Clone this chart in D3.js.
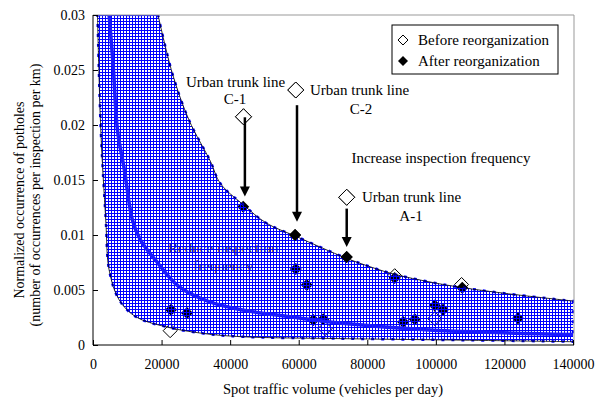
<html lang="en">
<head>
<meta charset="UTF-8">
<title>Potholes vs traffic</title>
<script src="https://cdn.jsdelivr.net/npm/d3@7"></script>
<style>
  body { margin: 0; background: #fff; }
  svg text { font-family: "Times New Roman", Times, "Liberation Serif", "DejaVu Serif", serif !important; }
</style>
</head>
<body>
<script>
    // tick values and labels
    let xTicks = [0, 20000, 40000, 60000, 80000, 100000, 120000, 140000]
    let yTicks = [0, 0.005, 0.01, 0.015, 0.02, 0.025, 0.03]
    let yTickLabels = ["0", "0.005", "0.01", "0.015", "0.02", "0.025", "0.03"]

    // boundary curves [traffic, occurrence]
    let upperBound = [[18977, 0.03], [23139, 0.0247], [28000, 0.02045], [34290, 0.01667], [37110, 0.0147],
        [43900, 0.01273], [50700, 0.01106], [59430, 0.00985], [74000, 0.00788], [83690, 0.00682],
        [88300, 0.0064], [103100, 0.00545], [120000, 0.0047], [140000, 0.0040]]
    let lowerBound = [[1310, 0.03], [2270, 0.01955], [3726, 0.01136], [4715, 0.0068], [7626, 0.0041],
        [12457, 0.00257], [21190, 0.00166], [31870, 0.00106], [43513, 0.00075], [72037, 0.00058],
        [105000, 0.00045], [140000, 0.0003]]
    let midCurve = [[4715, 0.03], [5967, 0.025], [7131, 0.01955], [9168, 0.0159], [11497, 0.01136],
        [13825, 0.00955], [18191, 0.00773], [25090, 0.0053], [33820, 0.00394], [43513, 0.00318],
        [57484, 0.00257], [72037, 0.0020], [98230, 0.00136], [140000, 0.00095]]

    // before / after reorganization points
    let beforePts = [[43900, 0.02075], [59140, 0.02318], [74000, 0.01343], [88000, 0.0063],
        [107500, 0.0055], [22500, 0.0013], [67700, 0.0015], [99700, 0.0024]]
    let afterPts = [[43800, 0.01257], [58940, 0.0100], [74000, 0.0080], [88000, 0.0061], [107700, 0.0052],
        [59150, 0.0069], [62340, 0.00545], [22760, 0.0032], [27420, 0.0029], [64270, 0.00227],
        [67180, 0.00234], [90460, 0.0021], [93870, 0.00234], [99690, 0.0036], [102100, 0.0032],
        [123940, 0.00243]]

    // arrows: [x, from y, to y]
    let arrows = [[44300, 0.0207, 0.0135], [59500, 0.0218, 0.0112], [74000, 0.0124, 0.0089]]

    let W = 604, H = 403
    let svg = d3.select('body').append('svg').attr('width', W).attr('height', H)
        .attr('font-family', '"Times New Roman", "Liberation Serif", serif')

    let x = d3.scaleLinear().domain([0, 140000]).range([93, 573])
    let y = d3.scaleLinear().domain([0, 0.03]).range([345, 15])

    let defs = svg.append('defs')
    defs.append('clipPath').attr('id', 'clip')
        .append('rect').attr('x', 93).attr('y', 15).attr('width', 481).attr('height', 330)
    let pat = defs.append('pattern').attr('id', 'grid').attr('patternUnits', 'userSpaceOnUse')
        .attr('width', 3).attr('height', 3)
    pat.append('rect').attr('x', 0).attr('y', 0).attr('width', 3).attr('height', 1).attr('fill', '#0000ff')
        .attr('shape-rendering', 'crispEdges')
    pat.append('rect').attr('x', 0).attr('y', 0).attr('width', 1).attr('height', 3).attr('fill', '#0000ff')
        .attr('shape-rendering', 'crispEdges')

    let plot = svg.append('g').attr('clip-path', 'url(#clip)')

    // text hidden under the hatching
    plot.append('text').attr('x', x(38000)).attr('y', y(0.0084)).attr('text-anchor', 'middle')
        .attr('font-size', 15).attr('fill', '#333').text('Reduce inspection')
    plot.append('text').attr('x', x(38000)).attr('y', y(0.0067)).attr('text-anchor', 'middle')
        .attr('font-size', 15).attr('fill', '#333').text('frequency')

    let diamond = function (s) {
        return 'M0,' + (-s) + 'L' + s + ',0L0,' + s + 'L' + (-s) + ',0Z'
    }

    // points drawn below the hatch
    plot.selectAll('path.after').data(afterPts).enter().append('path')
        .attr('class', 'after')
        .attr('d', diamond(6))
        .attr('transform', d => 'translate(' + x(d[0]) + ',' + y(d[1]) + ')')
        .attr('fill', '#000')
    plot.selectAll('path.before').data(beforePts).enter().append('path')
        .attr('class', 'before')
        .attr('d', function (d, i) { return diamond(i < 3 ? 8 : 7) })
        .attr('transform', d => 'translate(' + x(d[0]) + ',' + y(d[1]) + ')')
        .attr('fill', function (d, i) { return i < 3 ? '#fff' : 'none' })
        .attr('stroke', '#000').attr('stroke-width', 1)

    let line = d3.line().x(d => x(d[0])).y(d => y(d[1])).curve(d3.curveCatmullRom)

    let lowerRev = lowerBound.slice().reverse()
    let regionPath = 'M' + x(lowerBound[0][0]) + ',' + y(0.03) +
        line(upperBound).replace(/^M/, 'L') +
        line(lowerRev).replace(/^M/, 'L') + 'Z'

    plot.append('path').attr('d', regionPath).attr('fill', 'url(#grid)')
    plot.append('path').attr('d', regionPath).attr('fill', 'none')
        .attr('stroke', '#0000ff').attr('stroke-width', 2.5).attr('stroke-dasharray', '3,7')
    plot.append('path').attr('d', line(upperBound)).attr('fill', 'none').attr('stroke', '#000').attr('stroke-width', 0.8)
    plot.append('path').attr('d', line(lowerBound)).attr('fill', 'none').attr('stroke', '#000').attr('stroke-width', 0.8)

    plot.append('path').attr('d', line(midCurve)).attr('fill', 'none')
        .attr('stroke', '#1a1aff').attr('stroke-width', 3.5)

    // points on the edge, drawn above
    let topAfter = [afterPts[1], afterPts[2]]
    plot.selectAll('path.after2').data(topAfter).enter().append('path')
        .attr('class', 'after2')
        .attr('d', diamond(6))
        .attr('transform', d => 'translate(' + x(d[0]) + ',' + y(d[1]) + ')')
        .attr('fill', '#000')
    plot.selectAll('path.before2').data(beforePts.slice(0, 3)).enter().append('path')
        .attr('class', 'before2')
        .attr('d', diamond(8))
        .attr('transform', d => 'translate(' + x(d[0]) + ',' + y(d[1]) + ')')
        .attr('fill', '#fff').attr('stroke', '#000').attr('stroke-width', 1)

    // arrows
    arrows.forEach(function (a) {
        let ax = x(a[0]), y1 = y(a[1]), y2 = y(a[2])
        svg.append('line').attr('x1', ax).attr('x2', ax).attr('y1', y1).attr('y2', y2 - 8)
            .attr('stroke', '#000').attr('stroke-width', 2.5)
        svg.append('path').attr('d', 'M' + (ax - 5) + ',' + (y2 - 10) + 'L' + (ax + 5) + ',' + (y2 - 10) + 'L' + ax + ',' + y2 + 'Z')
            .attr('fill', '#000')
    })

    // frame
    svg.append('line').attr('x1', 93).attr('x2', 574).attr('y1', 15).attr('y2', 15).attr('stroke', '#999')
    svg.append('line').attr('x1', 574).attr('x2', 574).attr('y1', 15).attr('y2', 345).attr('stroke', '#999')

    // axes
    let xAxis = d3.axisBottom(x).tickValues(xTicks).tickSize(-5).tickPadding(14).tickFormat(d3.format('d'))
    let gx = svg.append('g').attr('transform', 'translate(0,345)').call(xAxis)
    let yAxis = d3.axisLeft(y).tickValues(yTicks).tickSize(-5).tickPadding(8)
        .tickFormat((d, i) => yTickLabels[i])
    let gy = svg.append('g').attr('transform', 'translate(93,0)').call(yAxis)
    gx.attr('font-family', null)
    gy.attr('font-family', null)
    gx.select('.domain').attr('d', 'M93,0H574')
    gy.select('.domain').attr('d', 'M0,15V345')
    svg.selectAll('.tick text').attr('font-size', 14).attr('fill', '#000')
    svg.selectAll('.tick line').attr('stroke', '#000')
    svg.selectAll('.domain').attr('stroke', '#000')

    // axis titles
    svg.append('text').attr('x', 333).attr('y', 394).attr('text-anchor', 'middle').attr('font-size', 14.5)
        .text('Spot traffic volume (vehicles per day)')
    svg.append('text').attr('transform', 'translate(24,200) rotate(-90)').attr('text-anchor', 'middle').attr('font-size', 14)
        .text('Normalized occurrence of potholes')
    svg.append('text').attr('transform', 'translate(40,195) rotate(-90)').attr('text-anchor', 'middle').attr('font-size', 14)
        .text('(number of occurrences per inspection per km)')

    // annotations
    let notes = [
        ['Urban trunk line', 186, 87, 'start'], ['C-1', 235, 104, 'middle'],
        ['Urban trunk line', 310, 95, 'start'], ['C-2', 361, 114, 'middle'],
        ['Urban trunk line', 362, 202, 'start'], ['A-1', 411, 221, 'middle'],
        ['Increase inspection frequency', 441, 163, 'middle']
    ]
    svg.selectAll('text.note').data(notes).enter().append('text')
        .attr('class', 'note')
        .attr('x', d => d[1]).attr('y', d => d[2]).attr('text-anchor', d => d[3])
        .attr('font-size', 15).text(d => d[0])

    // legend
    let lg = svg.append('g')
    lg.append('rect').attr('x', 392).attr('y', 25).attr('width', 166).attr('height', 49)
        .attr('fill', '#fff').attr('stroke', '#000')
    lg.append('path').attr('d', diamond(5)).attr('transform', 'translate(403,40)')
        .attr('fill', '#fff').attr('stroke', '#000')
    lg.append('path').attr('d', diamond(5)).attr('transform', 'translate(403,61)').attr('fill', '#000')
    lg.append('text').attr('x', 418).attr('y', 45).attr('font-size', 15).text('Before reorganization')
    lg.append('text').attr('x', 418).attr('y', 66).attr('font-size', 15).text('After reorganization')
</script>
</body>
</html>
